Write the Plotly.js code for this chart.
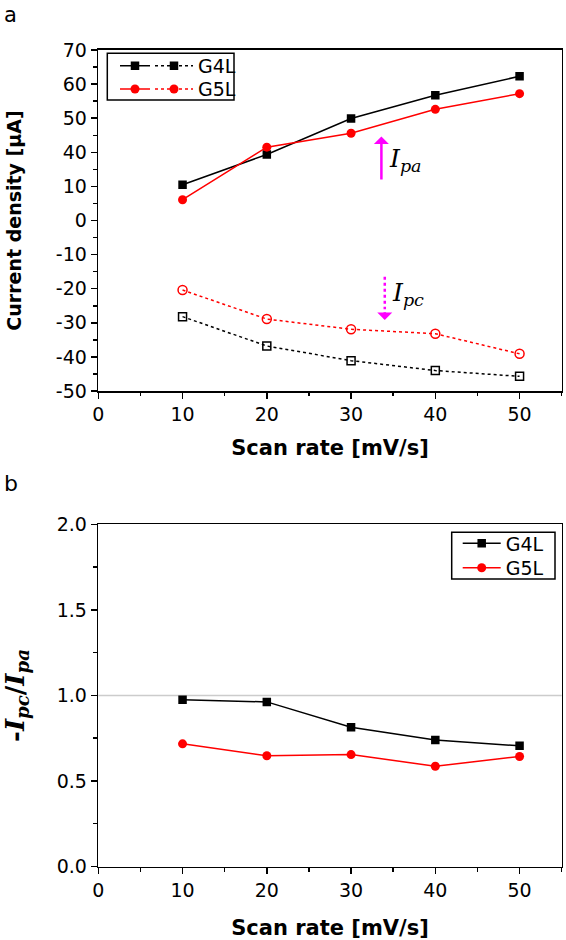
<!DOCTYPE html>
<html>
<head>
<meta charset="utf-8">
<script src="https://cdn.plot.ly/plotly-3.0.1.min.js"></script>
<style>html,body{margin:0;padding:0;background:#fff}#chart{width:566px;height:940px}</style>
</head>
<body>
<div id="chart"></div>
<script>
// ---- data ----
const scanRate = [10, 20, 30, 40, 50];                 // mV/s
// panel a: peak currents (values as labelled on the broken y axis)
const g4lAnodic   = [11.4, 38.1, 49.9, 56.7, 62.3];
const g5lAnodic   = [6.1, 41.5, 45.6, 52.6, 57.2];
const g4lCathodic = [-28.2, -36.8, -41.1, -44.0, -45.7];
const g5lCathodic = [-20.4, -28.9, -31.9, -33.2, -39.1];
// panel b: -Ipc/Ipa
const g4lRatio = [0.974, 0.962, 0.814, 0.740, 0.705];
const g5lRatio = [0.717, 0.647, 0.654, 0.586, 0.643];
// tick labels of panel a (axis is broken between 10 and 40)
const yTickValuesA = [-50, -40, -30, -20, -10, 0, 10, 40, 50, 60, 70];
const yTickLabelsA = ['-50', '-40', '-30', '-20', '-10', '0', '10', '40', '50', '60', '70'];
const xTickValues = [0, 10, 20, 30, 40, 50];

// axis break: the 10..40 span is drawn in one tick interval
function brk(v) { return v <= 10 ? v : (v >= 40 ? v - 20 : 10 + (v - 10) / 3); }

const W = 566, H = 940;
const px = v => v / W;
const py = v => 1 - v / H;

const BLACK = '#000000', RED = '#ff0000', MAG = '#ff00ff';
const TICKFONT = {family: 'DejaVu Sans', size: 19, color: BLACK};
const TITLEFONT = {family: 'DejaVu Sans', size: 21, color: BLACK, weight: 700};
const LEGFONT = {family: 'DejaVu Sans', size: 19, color: BLACK};

const traces = [
  {x: scanRate, y: g4lAnodic.map(brk), mode: 'lines+markers', name: '', legend: 'legend',
   line: {color: BLACK, width: 1.5}, marker: {symbol: 'square', size: 8.5, color: BLACK}, xaxis: 'x', yaxis: 'y'},
  {x: scanRate, y: g5lAnodic.map(brk), mode: 'lines+markers', name: '', legend: 'legend3',
   line: {color: RED, width: 1.5}, marker: {symbol: 'circle', size: 9, color: RED}, xaxis: 'x', yaxis: 'y'},
  {x: scanRate, y: g4lCathodic.map(brk), mode: 'lines+markers', name: 'G4L Ipc', showlegend: false,
   line: {color: BLACK, width: 1.5, dash: 'dot'},
   marker: {symbol: 'square-open', size: 8, color: BLACK, line: {width: 1.5, color: BLACK}}, xaxis: 'x', yaxis: 'y'},
  {x: scanRate, y: g5lCathodic.map(brk), mode: 'lines+markers', name: 'G5L Ipc', showlegend: false,
   line: {color: RED, width: 1.5, dash: 'dot'},
   marker: {symbol: 'circle-open', size: 9, color: RED, line: {width: 1.5, color: RED}}, xaxis: 'x', yaxis: 'y'},
  // legend samples for the dotted (cathodic) style
  {x: [null], y: [null], mode: 'lines+markers', name: 'G4L', legend: 'legend2',
   line: {color: BLACK, width: 1.5, dash: 'dot'}, marker: {symbol: 'square', size: 8.5, color: BLACK}, xaxis: 'x', yaxis: 'y'},
  {x: [null], y: [null], mode: 'lines+markers', name: 'G5L', legend: 'legend4',
   line: {color: RED, width: 1.5, dash: 'dot'}, marker: {symbol: 'circle', size: 9, color: RED}, xaxis: 'x', yaxis: 'y'},
  // panel b
  {x: scanRate, y: g4lRatio, mode: 'lines+markers', name: 'G4L', legend: 'legend5',
   line: {color: BLACK, width: 1.5}, marker: {symbol: 'square', size: 8.5, color: BLACK}, xaxis: 'x2', yaxis: 'y2'},
  {x: scanRate, y: g5lRatio, mode: 'lines+markers', name: 'G5L', legend: 'legend6',
   line: {color: RED, width: 1.5}, marker: {symbol: 'circle', size: 9, color: RED}, xaxis: 'x2', yaxis: 'y2'}
];

function xAxis(domain, anchor, standoff) {
  return {
    domain: domain, anchor: anchor, range: [0, 55], tickmode: 'array', tickvals: xTickValues,
    ticks: 'outside', ticklen: 6, tickwidth: 1.5, tickcolor: BLACK, tickfont: TICKFONT,
    showline: true, linewidth: 1.6, linecolor: BLACK, mirror: true, showgrid: false, zeroline: false,
    minor: {ticks: 'outside', ticklen: 3.5, tickwidth: 1.5, tickcolor: BLACK, tickmode: 'linear', tick0: 0, dtick: 5, showgrid: false},
    title: {text: 'Scan rate [mV/s]', font: TITLEFONT, standoff: standoff}
  };
}

function leg(left, top, itemwidth) {
  return {x: px(left), xanchor: 'left', y: py(top), yanchor: 'top', bgcolor: 'rgba(0,0,0,0)', borderwidth: 0,
          font: LEGFONT, itemwidth: itemwidth};
}

const layout = {
  width: W, height: H,
  margin: {l: 0, r: 0, t: 0, b: 0},
  paper_bgcolor: '#ffffff', plot_bgcolor: '#ffffff',
  showlegend: true,
  xaxis: xAxis([px(98.3), px(561.7)], 'y', 16),
  yaxis: {
    domain: [py(391), py(50)], anchor: 'x', range: [brk(-50), brk(70)],
    tickmode: 'array', tickvals: yTickValuesA.map(brk), ticktext: yTickLabelsA,
    ticks: 'outside', ticklen: 6, tickwidth: 1.5, tickcolor: BLACK, tickfont: TICKFONT,
    showline: true, linewidth: 1.6, linecolor: BLACK, mirror: true, showgrid: false, zeroline: false,
    minor: {ticks: 'outside', ticklen: 3.5, tickwidth: 1.5, tickcolor: BLACK, tickmode: 'linear', tick0: 0, dtick: 5, showgrid: false},
    title: {text: 'Current density [μA]', font: {family: 'DejaVu Sans', size: 19, color: BLACK, weight: 700}, standoff: 29}
  },
  xaxis2: xAxis([px(98.3), px(561.7)], 'y2', 21),
  yaxis2: {
    domain: [py(866.5), py(524.3)], anchor: 'x2', range: [0, 2],
    tickmode: 'linear', tick0: 0, dtick: 0.5, tickformat: '.1f',
    ticks: 'outside', ticklen: 6, tickwidth: 1.5, tickcolor: BLACK, tickfont: TICKFONT,
    showline: true, linewidth: 1.6, linecolor: BLACK, mirror: true, showgrid: false, zeroline: false,
    minor: {ticks: 'outside', ticklen: 3.5, tickwidth: 1.5, tickcolor: BLACK, tickmode: 'linear', tick0: 0, dtick: 0.25, showgrid: false},
    title: {text: '-<i>I</i><sub><i>pc</i></sub>/<i>I</i><sub><i>pa</i></sub>',
            font: {family: 'DejaVu Serif', size: 26, color: BLACK, weight: 700}, standoff: 32}
  },
  legend:  leg(115, 46.9, 30),
  legend2: leg(150, 46.9, 38),
  legend3: leg(115, 70.2, 30),
  legend4: leg(150, 70.2, 38),
  legend5: leg(457.7, 524.5, 38),
  legend6: leg(457.7, 548.9, 38),
  shapes: [
    {type: 'rect', xref: 'paper', yref: 'paper', x0: px(107.3), x1: px(234), y0: py(100), y1: py(53.3),
     line: {color: BLACK, width: 1.5}, fillcolor: 'rgba(0,0,0,0)'},
    {type: 'rect', xref: 'paper', yref: 'paper', x0: px(451.7), x1: px(555), y0: py(579), y1: py(532.3),
     line: {color: BLACK, width: 1.5}, fillcolor: 'rgba(0,0,0,0)'},
    {type: 'line', xref: 'x2 domain', x0: 0, x1: 1, yref: 'y2', y0: 1, y1: 1,
     line: {color: '#cccccc', width: 1.5}, layer: 'below'},
    // dotted shaft of the Ipc arrow
    {type: 'line', xref: 'x', yref: 'y', x0: 34.0, x1: 34.0, y0: -16.5, y1: -26.0,
     line: {color: MAG, width: 2.5, dash: 'dot'}}
  ],
  annotations: [
    {text: 'a', xref: 'paper', yref: 'paper', x: px(2), y: py(0.5), xanchor: 'left', yanchor: 'top', showarrow: false,
     font: {family: 'DejaVu Sans', size: 21, color: BLACK}},
    {text: 'b', xref: 'paper', yref: 'paper', x: px(2), y: py(498), xanchor: 'left', yanchor: 'bottom', showarrow: false,
     font: {family: 'DejaVu Sans', size: 22, color: BLACK}},
    // Ipa arrow (solid, upward)
    {text: '', xref: 'x', yref: 'y', x: 33.6, y: 24.6, axref: 'x', ayref: 'y', ax: 33.6, ay: 11.6,
     showarrow: true, arrowhead: 1, arrowsize: 1, arrowwidth: 2.5, arrowcolor: MAG},
    {text: '<i>I</i><sub><i>pa</i></sub>', xref: 'x', yref: 'y', x: 34.3, y: 17.6, xanchor: 'left', yanchor: 'middle',
     showarrow: false, font: {family: 'DejaVu Serif', size: 25, color: BLACK}},
    // Ipc arrow head (shaft is the dotted shape)
    {text: '', xref: 'x', yref: 'y', x: 34.0, y: -29.2, axref: 'x', ayref: 'y', ax: 34.0, ay: -26.5,
     showarrow: true, arrowhead: 1, arrowsize: 1, arrowwidth: 2.5, arrowcolor: MAG},
    {text: '<i>I</i><sub><i>pc</i></sub>', xref: 'x', yref: 'y', x: 34.6, y: -21.5, xanchor: 'left', yanchor: 'middle',
     showarrow: false, font: {family: 'DejaVu Serif', size: 25, color: BLACK}}
  ]
};

Plotly.newPlot('chart', traces, layout, {displayModeBar: false, staticPlot: true});
</script>
</body>
</html>
